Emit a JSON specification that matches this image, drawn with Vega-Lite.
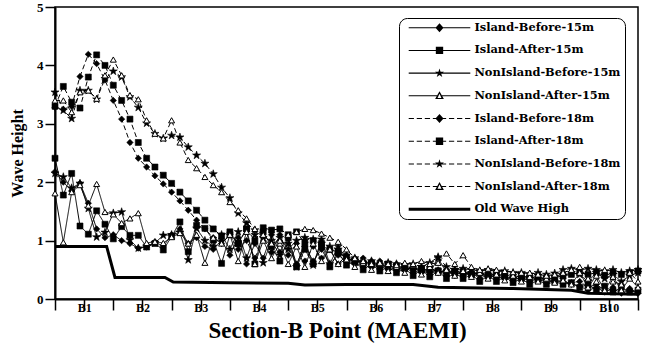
{
"$schema":"https://vega.github.io/schema/vega-lite/v6.json",
"width":583,"height":292,
"autosize":{"type":"none"},
"padding":{"left":55,"top":7,"right":8,"bottom":55},
"background":"white",
"config":{"view":{"stroke":"black","strokeWidth":1.5},"font":"Liberation Serif"},
"data":{"values":[
{"s":"IB15","x":0,"y":2.18},{"s":"IB15","x":1,"y":2.0},{"s":"IB15","x":2,"y":1.85},{"s":"IB15","x":3,"y":1.98},{"s":"IB15","x":4,"y":1.64},{"s":"IB15","x":5,"y":1.2},{"s":"IB15","x":6,"y":1.05},{"s":"IB15","x":7,"y":1.1},{"s":"IB15","x":8,"y":1.0},{"s":"IB15","x":9,"y":0.95},{"s":"IB15","x":10,"y":0.87},{"s":"IB15","x":11,"y":0.89},{"s":"IB15","x":12,"y":0.98},{"s":"IB15","x":13,"y":0.9},{"s":"IB15","x":14,"y":1.1},{"s":"IB15","x":15,"y":1.2},{"s":"IB15","x":16,"y":0.95},{"s":"IB15","x":17,"y":1.05},{"s":"IB15","x":18,"y":0.9},{"s":"IB15","x":19,"y":0.85},{"s":"IB15","x":20,"y":1.0},{"s":"IB15","x":21,"y":0.75},{"s":"IB15","x":22,"y":1.05},{"s":"IB15","x":23,"y":0.6},{"s":"IB15","x":24,"y":0.95},{"s":"IB15","x":25,"y":0.7},{"s":"IB15","x":26,"y":1.1},{"s":"IB15","x":27,"y":0.8},{"s":"IB15","x":28,"y":1.05},{"s":"IB15","x":29,"y":0.6},{"s":"IB15","x":30,"y":0.9},{"s":"IB15","x":31,"y":0.65},{"s":"IB15","x":32,"y":0.85},{"s":"IB15","x":33,"y":0.6},{"s":"IB15","x":34,"y":0.75},{"s":"IB15","x":35,"y":0.65},{"s":"IB15","x":36,"y":0.7},{"s":"IB15","x":37,"y":0.55},{"s":"IB15","x":38,"y":0.65},{"s":"IB15","x":39,"y":0.5},{"s":"IB15","x":40,"y":0.6},{"s":"IB15","x":41,"y":0.5},{"s":"IB15","x":42,"y":0.55},{"s":"IB15","x":43,"y":0.45},{"s":"IB15","x":44,"y":0.5},{"s":"IB15","x":45,"y":0.42},{"s":"IB15","x":46,"y":0.5},{"s":"IB15","x":47,"y":0.4},{"s":"IB15","x":48,"y":0.48},{"s":"IB15","x":49,"y":0.4},{"s":"IB15","x":50,"y":0.45},{"s":"IB15","x":51,"y":0.35},{"s":"IB15","x":52,"y":0.42},{"s":"IB15","x":53,"y":0.35},{"s":"IB15","x":54,"y":0.4},{"s":"IB15","x":55,"y":0.32},{"s":"IB15","x":56,"y":0.38},{"s":"IB15","x":57,"y":0.3},{"s":"IB15","x":58,"y":0.35},{"s":"IB15","x":59,"y":0.28},{"s":"IB15","x":60,"y":0.32},{"s":"IB15","x":61,"y":0.3},{"s":"IB15","x":62,"y":0.25},{"s":"IB15","x":63,"y":0.22},{"s":"IB15","x":64,"y":0.15},{"s":"IB15","x":65,"y":0.2},{"s":"IB15","x":66,"y":0.12},{"s":"IB15","x":67,"y":0.18},{"s":"IB15","x":68,"y":0.1},{"s":"IB15","x":69,"y":0.15},{"s":"IB15","x":70,"y":0.1},
{"s":"IA15","x":0,"y":2.41},{"s":"IA15","x":1,"y":1.78},{"s":"IA15","x":2,"y":2.15},{"s":"IA15","x":3,"y":1.25},{"s":"IA15","x":4,"y":1.11},{"s":"IA15","x":5,"y":1.51},{"s":"IA15","x":6,"y":1.28},{"s":"IA15","x":7,"y":1.03},{"s":"IA15","x":8,"y":1.24},{"s":"IA15","x":9,"y":1.09},{"s":"IA15","x":10,"y":1.09},{"s":"IA15","x":11,"y":0.89},{"s":"IA15","x":12,"y":0.95},{"s":"IA15","x":13,"y":0.84},{"s":"IA15","x":14,"y":1.07},{"s":"IA15","x":15,"y":1.32},{"s":"IA15","x":16,"y":0.81},{"s":"IA15","x":17,"y":1.26},{"s":"IA15","x":18,"y":1.21},{"s":"IA15","x":19,"y":1.01},{"s":"IA15","x":20,"y":0.61},{"s":"IA15","x":21,"y":1.1},{"s":"IA15","x":22,"y":0.95},{"s":"IA15","x":23,"y":1.2},{"s":"IA15","x":24,"y":0.6},{"s":"IA15","x":25,"y":1.15},{"s":"IA15","x":26,"y":0.9},{"s":"IA15","x":27,"y":0.65},{"s":"IA15","x":28,"y":1.05},{"s":"IA15","x":29,"y":0.55},{"s":"IA15","x":30,"y":0.85},{"s":"IA15","x":31,"y":0.6},{"s":"IA15","x":32,"y":0.95},{"s":"IA15","x":33,"y":0.55},{"s":"IA15","x":34,"y":0.8},{"s":"IA15","x":35,"y":0.58},{"s":"IA15","x":36,"y":0.65},{"s":"IA15","x":37,"y":0.5},{"s":"IA15","x":38,"y":0.6},{"s":"IA15","x":39,"y":0.48},{"s":"IA15","x":40,"y":0.55},{"s":"IA15","x":41,"y":0.45},{"s":"IA15","x":42,"y":0.52},{"s":"IA15","x":43,"y":0.4},{"s":"IA15","x":44,"y":0.5},{"s":"IA15","x":45,"y":0.38},{"s":"IA15","x":46,"y":0.48},{"s":"IA15","x":47,"y":0.35},{"s":"IA15","x":48,"y":0.45},{"s":"IA15","x":49,"y":0.35},{"s":"IA15","x":50,"y":0.42},{"s":"IA15","x":51,"y":0.3},{"s":"IA15","x":52,"y":0.4},{"s":"IA15","x":53,"y":0.3},{"s":"IA15","x":54,"y":0.38},{"s":"IA15","x":55,"y":0.28},{"s":"IA15","x":56,"y":0.35},{"s":"IA15","x":57,"y":0.25},{"s":"IA15","x":58,"y":0.32},{"s":"IA15","x":59,"y":0.25},{"s":"IA15","x":60,"y":0.3},{"s":"IA15","x":61,"y":0.25},{"s":"IA15","x":62,"y":0.28},{"s":"IA15","x":63,"y":0.2},{"s":"IA15","x":64,"y":0.25},{"s":"IA15","x":65,"y":0.15},{"s":"IA15","x":66,"y":0.22},{"s":"IA15","x":67,"y":0.12},{"s":"IA15","x":68,"y":0.2},{"s":"IA15","x":69,"y":0.12},{"s":"IA15","x":70,"y":0.15},
{"s":"NB15","x":0,"y":2.15},{"s":"NB15","x":1,"y":2.09},{"s":"NB15","x":2,"y":1.9},{"s":"NB15","x":3,"y":1.98},{"s":"NB15","x":4,"y":1.55},{"s":"NB15","x":5,"y":1.06},{"s":"NB15","x":6,"y":1.14},{"s":"NB15","x":7,"y":1.47},{"s":"NB15","x":8,"y":1.49},{"s":"NB15","x":9,"y":1.01},{"s":"NB15","x":10,"y":0.87},{"s":"NB15","x":11,"y":0.9},{"s":"NB15","x":12,"y":0.96},{"s":"NB15","x":13,"y":1.09},{"s":"NB15","x":14,"y":1.1},{"s":"NB15","x":15,"y":1.14},{"s":"NB15","x":16,"y":0.67},{"s":"NB15","x":17,"y":1.21},{"s":"NB15","x":18,"y":1.0},{"s":"NB15","x":19,"y":0.9},{"s":"NB15","x":20,"y":1.1},{"s":"NB15","x":21,"y":0.85},{"s":"NB15","x":22,"y":1.15},{"s":"NB15","x":23,"y":0.7},{"s":"NB15","x":24,"y":1.1},{"s":"NB15","x":25,"y":0.62},{"s":"NB15","x":26,"y":1.0},{"s":"NB15","x":27,"y":0.75},{"s":"NB15","x":28,"y":0.95},{"s":"NB15","x":29,"y":0.55},{"s":"NB15","x":30,"y":1.0},{"s":"NB15","x":31,"y":0.58},{"s":"NB15","x":32,"y":1.02},{"s":"NB15","x":33,"y":0.6},{"s":"NB15","x":34,"y":0.9},{"s":"NB15","x":35,"y":0.62},{"s":"NB15","x":36,"y":0.7},{"s":"NB15","x":37,"y":0.6},{"s":"NB15","x":38,"y":0.65},{"s":"NB15","x":39,"y":0.55},{"s":"NB15","x":40,"y":0.6},{"s":"NB15","x":41,"y":0.5},{"s":"NB15","x":42,"y":0.58},{"s":"NB15","x":43,"y":0.5},{"s":"NB15","x":44,"y":0.55},{"s":"NB15","x":45,"y":0.45},{"s":"NB15","x":46,"y":0.7},{"s":"NB15","x":47,"y":0.45},{"s":"NB15","x":48,"y":0.5},{"s":"NB15","x":49,"y":0.42},{"s":"NB15","x":50,"y":0.5},{"s":"NB15","x":51,"y":0.4},{"s":"NB15","x":52,"y":0.48},{"s":"NB15","x":53,"y":0.38},{"s":"NB15","x":54,"y":0.45},{"s":"NB15","x":55,"y":0.35},{"s":"NB15","x":56,"y":0.42},{"s":"NB15","x":57,"y":0.35},{"s":"NB15","x":58,"y":0.4},{"s":"NB15","x":59,"y":0.32},{"s":"NB15","x":60,"y":0.38},{"s":"NB15","x":61,"y":0.4},{"s":"NB15","x":62,"y":0.45},{"s":"NB15","x":63,"y":0.42},{"s":"NB15","x":64,"y":0.3},{"s":"NB15","x":65,"y":0.45},{"s":"NB15","x":66,"y":0.35},{"s":"NB15","x":67,"y":0.42},{"s":"NB15","x":68,"y":0.3},{"s":"NB15","x":69,"y":0.4},{"s":"NB15","x":70,"y":0.45},
{"s":"NA15","x":0,"y":1.81},{"s":"NA15","x":1,"y":0.97},{"s":"NA15","x":2,"y":1.83},{"s":"NA15","x":3,"y":1.95},{"s":"NA15","x":4,"y":1.6},{"s":"NA15","x":5,"y":1.97},{"s":"NA15","x":6,"y":1.49},{"s":"NA15","x":7,"y":1.45},{"s":"NA15","x":8,"y":1.3},{"s":"NA15","x":9,"y":1.38},{"s":"NA15","x":10,"y":1.47},{"s":"NA15","x":11,"y":0.96},{"s":"NA15","x":12,"y":0.98},{"s":"NA15","x":13,"y":0.96},{"s":"NA15","x":14,"y":1.06},{"s":"NA15","x":15,"y":1.13},{"s":"NA15","x":16,"y":0.95},{"s":"NA15","x":17,"y":1.1},{"s":"NA15","x":18,"y":0.62},{"s":"NA15","x":19,"y":1.05},{"s":"NA15","x":20,"y":0.95},{"s":"NA15","x":21,"y":1.1},{"s":"NA15","x":22,"y":0.65},{"s":"NA15","x":23,"y":1.15},{"s":"NA15","x":24,"y":0.6},{"s":"NA15","x":25,"y":1.0},{"s":"NA15","x":26,"y":0.7},{"s":"NA15","x":27,"y":0.95},{"s":"NA15","x":28,"y":0.6},{"s":"NA15","x":29,"y":0.9},{"s":"NA15","x":30,"y":0.55},{"s":"NA15","x":31,"y":0.95},{"s":"NA15","x":32,"y":0.65},{"s":"NA15","x":33,"y":0.85},{"s":"NA15","x":34,"y":0.6},{"s":"NA15","x":35,"y":0.68},{"s":"NA15","x":36,"y":0.55},{"s":"NA15","x":37,"y":0.62},{"s":"NA15","x":38,"y":0.5},{"s":"NA15","x":39,"y":0.6},{"s":"NA15","x":40,"y":0.48},{"s":"NA15","x":41,"y":0.55},{"s":"NA15","x":42,"y":0.45},{"s":"NA15","x":43,"y":0.58},{"s":"NA15","x":44,"y":0.42},{"s":"NA15","x":45,"y":0.55},{"s":"NA15","x":46,"y":0.45},{"s":"NA15","x":47,"y":0.5},{"s":"NA15","x":48,"y":0.4},{"s":"NA15","x":49,"y":0.48},{"s":"NA15","x":50,"y":0.38},{"s":"NA15","x":51,"y":0.45},{"s":"NA15","x":52,"y":0.35},{"s":"NA15","x":53,"y":0.42},{"s":"NA15","x":54,"y":0.32},{"s":"NA15","x":55,"y":0.4},{"s":"NA15","x":56,"y":0.3},{"s":"NA15","x":57,"y":0.38},{"s":"NA15","x":58,"y":0.3},{"s":"NA15","x":59,"y":0.35},{"s":"NA15","x":60,"y":0.28},{"s":"NA15","x":61,"y":0.32},{"s":"NA15","x":62,"y":0.25},{"s":"NA15","x":63,"y":0.45},{"s":"NA15","x":64,"y":0.2},{"s":"NA15","x":65,"y":0.4},{"s":"NA15","x":66,"y":0.15},{"s":"NA15","x":67,"y":0.38},{"s":"NA15","x":68,"y":0.15},{"s":"NA15","x":69,"y":0.35},{"s":"NA15","x":70,"y":0.2},
{"s":"IB18","x":0,"y":3.28},{"s":"IB18","x":1,"y":3.25},{"s":"IB18","x":2,"y":3.3},{"s":"IB18","x":3,"y":3.81},{"s":"IB18","x":4,"y":4.19},{"s":"IB18","x":5,"y":4.03},{"s":"IB18","x":6,"y":3.75},{"s":"IB18","x":7,"y":3.4},{"s":"IB18","x":8,"y":3.08},{"s":"IB18","x":9,"y":2.68},{"s":"IB18","x":10,"y":2.41},{"s":"IB18","x":11,"y":2.26},{"s":"IB18","x":12,"y":2.11},{"s":"IB18","x":13,"y":1.97},{"s":"IB18","x":14,"y":1.83},{"s":"IB18","x":15,"y":1.68},{"s":"IB18","x":16,"y":1.52},{"s":"IB18","x":17,"y":1.35},{"s":"IB18","x":18,"y":1.2},{"s":"IB18","x":19,"y":1.05},{"s":"IB18","x":20,"y":0.95},{"s":"IB18","x":21,"y":1.1},{"s":"IB18","x":22,"y":0.85},{"s":"IB18","x":23,"y":1.0},{"s":"IB18","x":24,"y":0.7},{"s":"IB18","x":25,"y":1.05},{"s":"IB18","x":26,"y":0.8},{"s":"IB18","x":27,"y":1.1},{"s":"IB18","x":28,"y":0.75},{"s":"IB18","x":29,"y":0.95},{"s":"IB18","x":30,"y":0.65},{"s":"IB18","x":31,"y":0.9},{"s":"IB18","x":32,"y":0.7},{"s":"IB18","x":33,"y":0.85},{"s":"IB18","x":34,"y":0.6},{"s":"IB18","x":35,"y":0.75},{"s":"IB18","x":36,"y":0.6},{"s":"IB18","x":37,"y":0.7},{"s":"IB18","x":38,"y":0.55},{"s":"IB18","x":39,"y":0.65},{"s":"IB18","x":40,"y":0.5},{"s":"IB18","x":41,"y":0.6},{"s":"IB18","x":42,"y":0.5},{"s":"IB18","x":43,"y":0.55},{"s":"IB18","x":44,"y":0.45},{"s":"IB18","x":45,"y":0.55},{"s":"IB18","x":46,"y":0.45},{"s":"IB18","x":47,"y":0.5},{"s":"IB18","x":48,"y":0.4},{"s":"IB18","x":49,"y":0.5},{"s":"IB18","x":50,"y":0.42},{"s":"IB18","x":51,"y":0.45},{"s":"IB18","x":52,"y":0.38},{"s":"IB18","x":53,"y":0.45},{"s":"IB18","x":54,"y":0.35},{"s":"IB18","x":55,"y":0.42},{"s":"IB18","x":56,"y":0.35},{"s":"IB18","x":57,"y":0.4},{"s":"IB18","x":58,"y":0.32},{"s":"IB18","x":59,"y":0.38},{"s":"IB18","x":60,"y":0.3},{"s":"IB18","x":61,"y":0.35},{"s":"IB18","x":62,"y":0.28},{"s":"IB18","x":63,"y":0.3},{"s":"IB18","x":64,"y":0.2},{"s":"IB18","x":65,"y":0.25},{"s":"IB18","x":66,"y":0.15},{"s":"IB18","x":67,"y":0.2},{"s":"IB18","x":68,"y":0.12},{"s":"IB18","x":69,"y":0.18},{"s":"IB18","x":70,"y":0.1},
{"s":"IA18","x":0,"y":3.3},{"s":"IA18","x":1,"y":3.64},{"s":"IA18","x":2,"y":3.37},{"s":"IA18","x":3,"y":3.27},{"s":"IA18","x":4,"y":3.8},{"s":"IA18","x":5,"y":4.18},{"s":"IA18","x":6,"y":4.0},{"s":"IA18","x":7,"y":3.66},{"s":"IA18","x":8,"y":3.4},{"s":"IA18","x":9,"y":3.08},{"s":"IA18","x":10,"y":2.68},{"s":"IA18","x":11,"y":2.41},{"s":"IA18","x":12,"y":2.26},{"s":"IA18","x":13,"y":2.12},{"s":"IA18","x":14,"y":1.98},{"s":"IA18","x":15,"y":1.83},{"s":"IA18","x":16,"y":1.68},{"s":"IA18","x":17,"y":1.52},{"s":"IA18","x":18,"y":1.35},{"s":"IA18","x":19,"y":1.2},{"s":"IA18","x":20,"y":1.08},{"s":"IA18","x":21,"y":1.15},{"s":"IA18","x":22,"y":0.95},{"s":"IA18","x":23,"y":1.2},{"s":"IA18","x":24,"y":1.0},{"s":"IA18","x":25,"y":1.22},{"s":"IA18","x":26,"y":1.18},{"s":"IA18","x":27,"y":1.2},{"s":"IA18","x":28,"y":1.1},{"s":"IA18","x":29,"y":1.15},{"s":"IA18","x":30,"y":0.95},{"s":"IA18","x":31,"y":1.0},{"s":"IA18","x":32,"y":0.9},{"s":"IA18","x":33,"y":0.85},{"s":"IA18","x":34,"y":0.8},{"s":"IA18","x":35,"y":0.7},{"s":"IA18","x":36,"y":0.65},{"s":"IA18","x":37,"y":0.62},{"s":"IA18","x":38,"y":0.6},{"s":"IA18","x":39,"y":0.58},{"s":"IA18","x":40,"y":0.6},{"s":"IA18","x":41,"y":0.55},{"s":"IA18","x":42,"y":0.55},{"s":"IA18","x":43,"y":0.52},{"s":"IA18","x":44,"y":0.5},{"s":"IA18","x":45,"y":0.5},{"s":"IA18","x":46,"y":0.48},{"s":"IA18","x":47,"y":0.45},{"s":"IA18","x":48,"y":0.48},{"s":"IA18","x":49,"y":0.45},{"s":"IA18","x":50,"y":0.42},{"s":"IA18","x":51,"y":0.45},{"s":"IA18","x":52,"y":0.4},{"s":"IA18","x":53,"y":0.42},{"s":"IA18","x":54,"y":0.4},{"s":"IA18","x":55,"y":0.38},{"s":"IA18","x":56,"y":0.4},{"s":"IA18","x":57,"y":0.36},{"s":"IA18","x":58,"y":0.38},{"s":"IA18","x":59,"y":0.35},{"s":"IA18","x":60,"y":0.36},{"s":"IA18","x":61,"y":0.4},{"s":"IA18","x":62,"y":0.42},{"s":"IA18","x":63,"y":0.45},{"s":"IA18","x":64,"y":0.42},{"s":"IA18","x":65,"y":0.45},{"s":"IA18","x":66,"y":0.4},{"s":"IA18","x":67,"y":0.45},{"s":"IA18","x":68,"y":0.42},{"s":"IA18","x":69,"y":0.45},{"s":"IA18","x":70,"y":0.48},
{"s":"NB18","x":0,"y":3.54},{"s":"NB18","x":1,"y":3.23},{"s":"NB18","x":2,"y":3.09},{"s":"NB18","x":3,"y":3.57},{"s":"NB18","x":4,"y":3.57},{"s":"NB18","x":5,"y":3.42},{"s":"NB18","x":6,"y":3.77},{"s":"NB18","x":7,"y":3.9},{"s":"NB18","x":8,"y":3.8},{"s":"NB18","x":9,"y":3.46},{"s":"NB18","x":10,"y":3.28},{"s":"NB18","x":11,"y":3.01},{"s":"NB18","x":12,"y":2.83},{"s":"NB18","x":13,"y":2.75},{"s":"NB18","x":14,"y":2.8},{"s":"NB18","x":15,"y":2.77},{"s":"NB18","x":16,"y":2.6},{"s":"NB18","x":17,"y":2.46},{"s":"NB18","x":18,"y":2.32},{"s":"NB18","x":19,"y":2.14},{"s":"NB18","x":20,"y":1.91},{"s":"NB18","x":21,"y":1.73},{"s":"NB18","x":22,"y":1.47},{"s":"NB18","x":23,"y":1.3},{"s":"NB18","x":24,"y":1.18},{"s":"NB18","x":25,"y":1.05},{"s":"NB18","x":26,"y":0.9},{"s":"NB18","x":27,"y":1.05},{"s":"NB18","x":28,"y":0.85},{"s":"NB18","x":29,"y":1.0},{"s":"NB18","x":30,"y":1.05},{"s":"NB18","x":31,"y":1.02},{"s":"NB18","x":32,"y":0.95},{"s":"NB18","x":33,"y":0.9},{"s":"NB18","x":34,"y":0.85},{"s":"NB18","x":35,"y":0.75},{"s":"NB18","x":36,"y":0.65},{"s":"NB18","x":37,"y":0.62},{"s":"NB18","x":38,"y":0.6},{"s":"NB18","x":39,"y":0.58},{"s":"NB18","x":40,"y":0.62},{"s":"NB18","x":41,"y":0.6},{"s":"NB18","x":42,"y":0.58},{"s":"NB18","x":43,"y":0.6},{"s":"NB18","x":44,"y":0.55},{"s":"NB18","x":45,"y":0.62},{"s":"NB18","x":46,"y":0.72},{"s":"NB18","x":47,"y":0.55},{"s":"NB18","x":48,"y":0.5},{"s":"NB18","x":49,"y":0.52},{"s":"NB18","x":50,"y":0.5},{"s":"NB18","x":51,"y":0.48},{"s":"NB18","x":52,"y":0.5},{"s":"NB18","x":53,"y":0.47},{"s":"NB18","x":54,"y":0.48},{"s":"NB18","x":55,"y":0.45},{"s":"NB18","x":56,"y":0.45},{"s":"NB18","x":57,"y":0.42},{"s":"NB18","x":58,"y":0.45},{"s":"NB18","x":59,"y":0.42},{"s":"NB18","x":60,"y":0.44},{"s":"NB18","x":61,"y":0.5},{"s":"NB18","x":62,"y":0.52},{"s":"NB18","x":63,"y":0.5},{"s":"NB18","x":64,"y":0.52},{"s":"NB18","x":65,"y":0.5},{"s":"NB18","x":66,"y":0.48},{"s":"NB18","x":67,"y":0.5},{"s":"NB18","x":68,"y":0.45},{"s":"NB18","x":69,"y":0.48},{"s":"NB18","x":70,"y":0.5},
{"s":"NA18","x":0,"y":3.4},{"s":"NA18","x":1,"y":3.4},{"s":"NA18","x":2,"y":3.2},{"s":"NA18","x":3,"y":3.54},{"s":"NA18","x":4,"y":3.57},{"s":"NA18","x":5,"y":3.43},{"s":"NA18","x":6,"y":3.83},{"s":"NA18","x":7,"y":4.1},{"s":"NA18","x":8,"y":3.83},{"s":"NA18","x":9,"y":3.49},{"s":"NA18","x":10,"y":3.42},{"s":"NA18","x":11,"y":3.06},{"s":"NA18","x":12,"y":2.83},{"s":"NA18","x":13,"y":2.75},{"s":"NA18","x":14,"y":3.06},{"s":"NA18","x":15,"y":2.68},{"s":"NA18","x":16,"y":2.38},{"s":"NA18","x":17,"y":2.24},{"s":"NA18","x":18,"y":2.09},{"s":"NA18","x":19,"y":1.95},{"s":"NA18","x":20,"y":1.83},{"s":"NA18","x":21,"y":1.66},{"s":"NA18","x":22,"y":1.52},{"s":"NA18","x":23,"y":1.38},{"s":"NA18","x":24,"y":1.2},{"s":"NA18","x":25,"y":1.1},{"s":"NA18","x":26,"y":0.95},{"s":"NA18","x":27,"y":1.0},{"s":"NA18","x":28,"y":1.1},{"s":"NA18","x":29,"y":1.15},{"s":"NA18","x":30,"y":1.2},{"s":"NA18","x":31,"y":1.18},{"s":"NA18","x":32,"y":1.12},{"s":"NA18","x":33,"y":1.05},{"s":"NA18","x":34,"y":0.98},{"s":"NA18","x":35,"y":0.85},{"s":"NA18","x":36,"y":0.7},{"s":"NA18","x":37,"y":0.65},{"s":"NA18","x":38,"y":0.6},{"s":"NA18","x":39,"y":0.62},{"s":"NA18","x":40,"y":0.6},{"s":"NA18","x":41,"y":0.58},{"s":"NA18","x":42,"y":0.62},{"s":"NA18","x":43,"y":0.6},{"s":"NA18","x":44,"y":0.65},{"s":"NA18","x":45,"y":0.6},{"s":"NA18","x":46,"y":0.62},{"s":"NA18","x":47,"y":0.78},{"s":"NA18","x":48,"y":0.6},{"s":"NA18","x":49,"y":0.75},{"s":"NA18","x":50,"y":0.55},{"s":"NA18","x":51,"y":0.5},{"s":"NA18","x":52,"y":0.52},{"s":"NA18","x":53,"y":0.5},{"s":"NA18","x":54,"y":0.48},{"s":"NA18","x":55,"y":0.46},{"s":"NA18","x":56,"y":0.45},{"s":"NA18","x":57,"y":0.45},{"s":"NA18","x":58,"y":0.42},{"s":"NA18","x":59,"y":0.4},{"s":"NA18","x":60,"y":0.42},{"s":"NA18","x":61,"y":0.45},{"s":"NA18","x":62,"y":0.5},{"s":"NA18","x":63,"y":0.55},{"s":"NA18","x":64,"y":0.35},{"s":"NA18","x":65,"y":0.3},{"s":"NA18","x":66,"y":0.5},{"s":"NA18","x":67,"y":0.3},{"s":"NA18","x":68,"y":0.25},{"s":"NA18","x":69,"y":0.45},{"s":"NA18","x":70,"y":0.3},
{"s":"OW","x":0,"y":0.9},{"s":"OW","x":6.2,"y":0.9},{"s":"OW","x":7.2,"y":0.37},{"s":"OW","x":13.2,"y":0.37},{"s":"OW","x":14.2,"y":0.29},{"s":"OW","x":21,"y":0.28},{"s":"OW","x":28,"y":0.27},{"s":"OW","x":30,"y":0.24},{"s":"OW","x":35,"y":0.25},{"s":"OW","x":43,"y":0.25},{"s":"OW","x":46,"y":0.2},{"s":"OW","x":55,"y":0.18},{"s":"OW","x":62,"y":0.15},{"s":"OW","x":64,"y":0.1},{"s":"OW","x":70,"y":0.08}
]},
"encoding":{
 "x":{"field":"x","type":"quantitative","scale":{"domain":[0,70],"nice":false,"zero":false},
  "axis":{"title":"Section-B Point (MAEMI)","values":[0,3.5,7,10.5,14,17.5,21,24.5,28,31.5,35,38.5,42,45.5,49,52.5,56,59.5,63,66.5,70],
   "labelExpr":"datum.value % 7 == 3.5 ? 'B' + (floor(datum.value/7)+1) : ''",
   "grid":false,"tickSize":11,"tickWidth":1.5,"tickColor":"black","domainColor":"black","domainWidth":2,
   "labelFont":"Liberation Serif","labelFontWeight":"bold","labelFontSize":12,"labelColor":"black","labelPadding":-8,
   "labelOverlap":false,"labelBound":false,"labelFlush":false,
   "titleFont":"Liberation Serif","titleFontWeight":"bold","titleFontSize":23,"titleColor":"black","titlePadding":6,"titleX":282,
   "encode":{"ticks":{"update":{"opacity":{"signal":"datum.value % 7 == 0 ? 1 : 0"}}}}}},
 "y":{"field":"y","type":"quantitative","scale":{"domain":[0,5],"nice":false},
  "axis":{"title":"Wave Height","values":[0,1,2,3,4,5],"format":"d","grid":false,"tickSize":10,"tickWidth":1.5,"tickColor":"black","domainColor":"black","domainWidth":2,
   "labelFont":"Liberation Serif","labelFontWeight":"bold","labelFontSize":13,"labelColor":"black","labelPadding":2,
   "titleFont":"Liberation Serif","titleFontWeight":"bold","titleFontSize":16,"titleColor":"black","titlePadding":11}}
},
"layer":[
 {"transform":[{"filter":"datum.s != 'OW'"}],
  "mark":{"type":"line","strokeWidth":1,"color":"black"},
  "encoding":{"strokeDash":{"field":"s","type":"nominal","scale":{"domain":["IB15","IA15","NB15","NA15","IB18","IA18","NB18","NA18"],"range":[[1,0],[1,0],[1,0],[1,0],[5,3],[5,3],[5,3],[5,3]]},"legend":null}}},
 {"transform":[{"filter":"datum.s == 'OW'"}],
  "mark":{"type":"line","strokeWidth":3,"color":"black"},
  "encoding":{}},
 {"transform":[{"filter":"datum.s == 'IB15' || datum.s == 'IB18'"}],
  "mark":{"type":"point","shape":"diamond","filled":true,"size":40,"fill":"black","stroke":"black","strokeWidth":0.6,"opacity":1},
  "encoding":{}},
 {"transform":[{"filter":"datum.s == 'IA15' || datum.s == 'IA18'"}],
  "mark":{"type":"point","shape":"square","filled":true,"size":36,"fill":"black","stroke":"black","strokeWidth":0.6,"opacity":1},
  "encoding":{}},
 {"transform":[{"filter":"datum.s == 'NB15' || datum.s == 'NB18'"}],
  "mark":{"type":"point","shape":"M0,-1.2L0.27,-0.37L1.14,-0.37L0.44,0.14L0.71,0.97L0,0.46L-0.71,0.97L-0.44,0.14L-1.14,-0.37L-0.27,-0.37Z","filled":true,"size":50,"fill":"black","stroke":"black","strokeWidth":0.6,"opacity":1},
  "encoding":{}},
 {"transform":[{"filter":"datum.s == 'NA15' || datum.s == 'NA18'"}],
  "mark":{"type":"point","shape":"triangle-up","filled":true,"size":36,"fill":"white","stroke":"black","strokeWidth":1,"opacity":1},
  "encoding":{}},
 {"mark":{"type":"point","size":0,"filled":true,"color":"black","opacity":1},
  "encoding":{
   "shape":{"field":"s","type":"nominal","scale":{"domain":["IB15","IA15","NB15","NA15","IB18","IA18","NB18","NA18","OW"],
     "range":[
      "M0,-0.15H17.6V0.15H0Z M8.8,-1.3L9.95,0L8.8,1.3L7.65,0Z",
      "M0,-0.15H17.6V0.15H0Z M7.75,-1.05H9.85V1.05H7.75Z",
      "M0,-0.15H17.6V0.15H0Z M8.8,-1.35L9.1,-0.42L10.08,-0.42L9.29,0.16L9.59,1.09L8.8,0.52L8.01,1.09L8.31,0.16L7.52,-0.42L8.5,-0.42Z",
      "M0,-0.15H8.25V0.15H0Z M9.35,-0.15H17.6V0.15H9.35Z M8.8,-1.3L10.05,0.95H7.55Z M8.8,-0.6L8.25,0.6H9.35Z",
      "M0,-0.15H1.5V0.15H0Z M2.3,-0.15H3.8V0.15H2.3Z M4.6,-0.15H6.1V0.15H4.6Z M6.9,-0.15H10.7V0.15H6.9Z M11.5,-0.15H13V0.15H11.5Z M13.8,-0.15H15.3V0.15H13.8Z M16.1,-0.15H17.6V0.15H16.1Z M8.8,-1.3L9.95,0L8.8,1.3L7.65,0Z",
      "M0,-0.15H1.5V0.15H0Z M2.3,-0.15H3.8V0.15H2.3Z M4.6,-0.15H6.1V0.15H4.6Z M6.9,-0.15H10.7V0.15H6.9Z M11.5,-0.15H13V0.15H11.5Z M13.8,-0.15H15.3V0.15H13.8Z M16.1,-0.15H17.6V0.15H16.1Z M7.75,-1.05H9.85V1.05H7.75Z",
      "M0,-0.15H1.5V0.15H0Z M2.3,-0.15H3.8V0.15H2.3Z M4.6,-0.15H6.1V0.15H4.6Z M6.9,-0.15H10.7V0.15H6.9Z M11.5,-0.15H13V0.15H11.5Z M13.8,-0.15H15.3V0.15H13.8Z M16.1,-0.15H17.6V0.15H16.1Z M8.8,-1.35L9.1,-0.42L10.08,-0.42L9.29,0.16L9.59,1.09L8.8,0.52L8.01,1.09L8.31,0.16L7.52,-0.42L8.5,-0.42Z",
      "M0,-0.15H1.5V0.15H0Z M2.3,-0.15H3.8V0.15H2.3Z M4.6,-0.15H6.1V0.15H4.6Z M6.9,-0.15H8.25V0.15H6.9Z M9.35,-0.15H10.7V0.15H9.35Z M11.5,-0.15H13V0.15H11.5Z M13.8,-0.15H15.3V0.15H13.8Z M16.1,-0.15H17.6V0.15H16.1Z M8.8,-1.3L10.05,0.95H7.55Z M8.8,-0.6L8.25,0.6H9.35Z",
      "M0,-0.42H17.6V0.42H0Z"]},
    "legend":{"title":null,"orient":"none","direction":"vertical","legendX":344,"legendY":11,
     "symbolSize":49,"symbolStrokeWidth":0,"symbolFillColor":"black",
     "labelOffset":60,"labelFont":"DejaVu Serif","labelFontWeight":"bold","labelFontSize":11.4,"labelColor":"black","labelLimit":300,
     "labelExpr":"datum.value == 'IB15' ? 'Island-Before-15m' : datum.value == 'IA15' ? 'Island-After-15m' : datum.value == 'NB15' ? 'NonIsland-Before-15m' : datum.value == 'NA15' ? 'NonIsland-After-15m' : datum.value == 'IB18' ? 'Island-Before-18m' : datum.value == 'IA18' ? 'Island-After-18m' : datum.value == 'NB18' ? 'NonIsland-Before-18m' : datum.value == 'NA18' ? 'NonIsland-After-18m' : 'Old Wave High'",
     "rowPadding":9.7,"padding":4,"strokeColor":"black","fillColor":"white","cornerRadius":8}}}}
]
}
